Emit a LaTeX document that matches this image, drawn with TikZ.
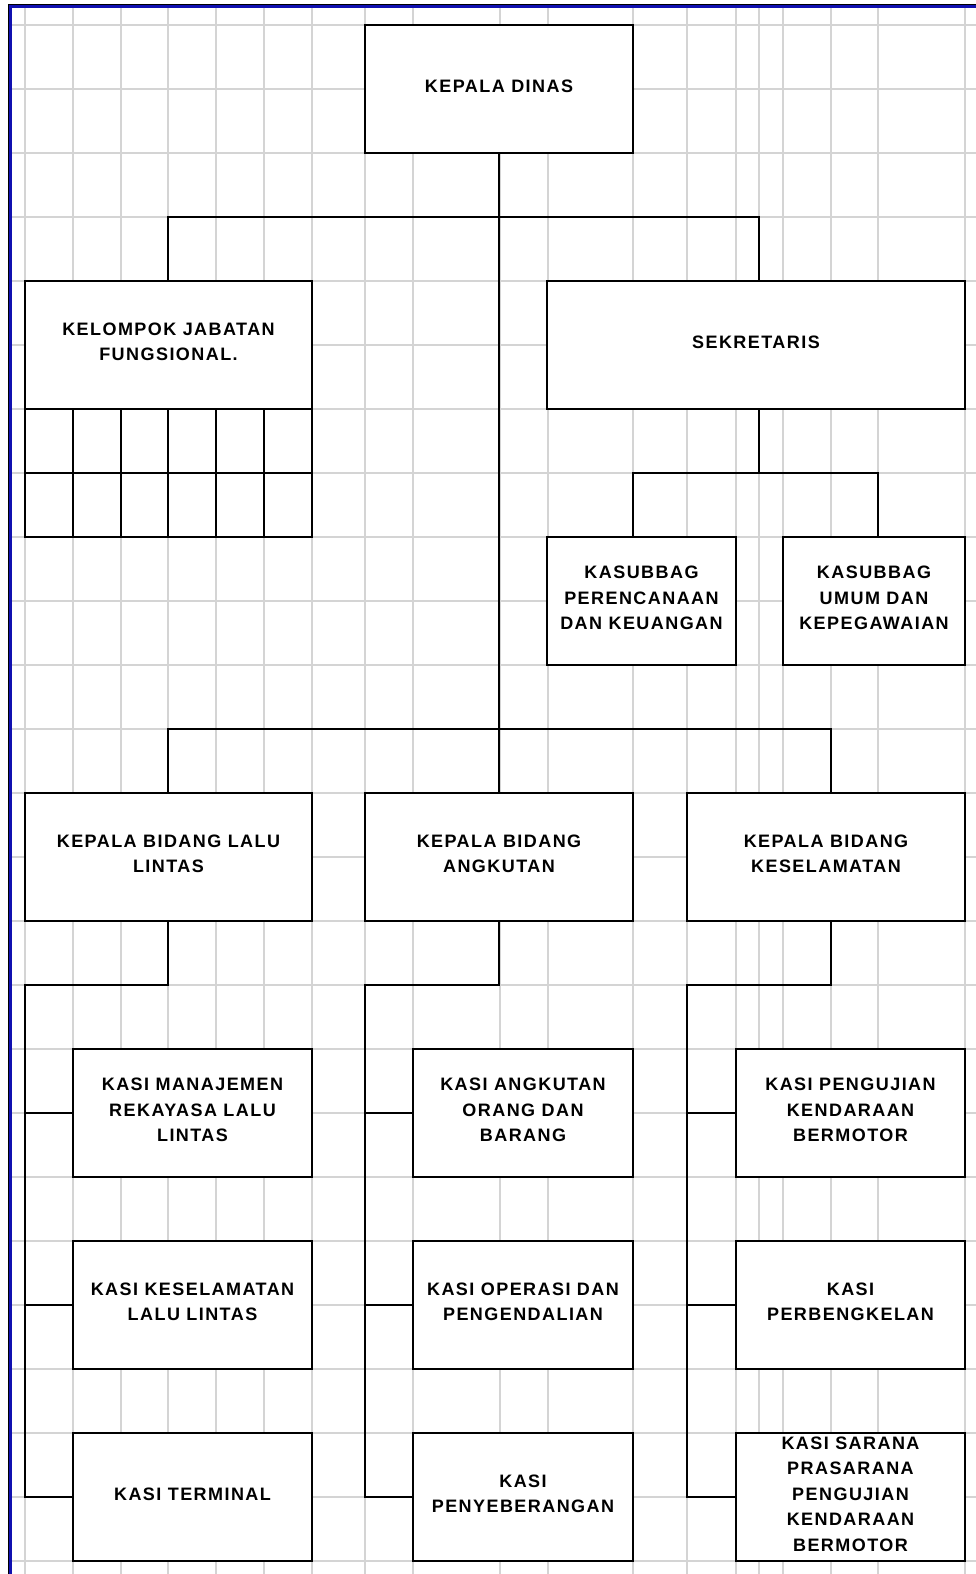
\documentclass[tikz,border=0pt]{standalone}
\usepackage{fontspec}
\newfontfamily\orgfont[LetterSpace=8]{Liberation Sans}
\definecolor{gridgray}{HTML}{D4D4D4}
\definecolor{xlblue}{HTML}{1010B0}
\newcommand\orgbox[6]{%
  \node[box,minimum width={(#4-#2)*1pt},minimum height={(#5-#3)*1pt}] (#1) at ({(#2+#4)/2},{(#3+#5)/2}) {};
  \node[txt] (#1t) at ([yshift=3pt]#1.center) {#6};}
\begin{document}
\begin{tikzpicture}[x=1pt,y=-1pt,
  box/.style={draw=black,fill=white,line width=1.8pt,inner sep=0pt,outer sep=0pt},
  txt/.style={font=\orgfont\bfseries\fontsize{18}{25.5}\selectfont,align=center,inner sep=0pt},
  conn/.style={draw=black,line width=1.8pt},
  gridline/.style={draw=gridgray,line width=1.5pt}]
\useasboundingbox (0,0) rectangle (976,1574);
\fill[white] (0,0) rectangle (976,1574);
% spreadsheet grid
\foreach \x in {25,73,121,168,216,264,312,365,413,500,548,633,687,736,759,783,831,878,965}
  \draw[gridline] (\x,7) -- (\x,1574);
\foreach \k in {0,...,24}
  \draw[gridline] (11,{25+64*\k}) -- (976,{25+64*\k});
% window border
\fill[xlblue] (8,4) rectangle (976,7.5);
\fill[xlblue] (8,4) rectangle (11.5,1574);
\draw[black,line width=1pt] (8.5,1574) -- (8.5,4.5) -- (976,4.5);
% boxes
\orgbox{kd}{365}{25}{633}{153}{KEPALA DINAS}
\orgbox{kjf}{25}{281}{312}{409}{KELOMPOK JABATAN\\FUNGSIONAL.}
\orgbox{sek}{547}{281}{965}{409}{SEKRETARIS}
\orgbox{kpk}{547}{537}{736}{665}{KASUBBAG\\PERENCANAAN\\DAN KEUANGAN}
\orgbox{kum}{783}{537}{965}{665}{KASUBBAG\\UMUM DAN\\KEPEGAWAIAN}
\orgbox{kbL}{25}{793}{312}{921}{KEPALA BIDANG LALU\\LINTAS}
\orgbox{kbA}{365}{793}{633}{921}{KEPALA BIDANG\\ANGKUTAN}
\orgbox{kbK}{687}{793}{965}{921}{KEPALA BIDANG\\KESELAMATAN}
\orgbox{Lone}{73}{1049}{312}{1177}{KASI MANAJEMEN\\REKAYASA LALU\\LINTAS}
\orgbox{Ltwo}{73}{1241}{312}{1369}{KASI KESELAMATAN\\LALU LINTAS}
\orgbox{Lthree}{73}{1433}{312}{1561}{KASI TERMINAL}
\orgbox{Aone}{413}{1049}{633}{1177}{KASI ANGKUTAN\\ORANG DAN\\BARANG}
\orgbox{Atwo}{413}{1241}{633}{1369}{KASI OPERASI DAN\\PENGENDALIAN}
\orgbox{Athree}{413}{1433}{633}{1561}{KASI\\PENYEBERANGAN}
\orgbox{Kone}{736}{1049}{965}{1177}{KASI PENGUJIAN\\KENDARAAN\\BERMOTOR}
\orgbox{Ktwo}{736}{1241}{965}{1369}{KASI\\PERBENGKELAN}
\orgbox{Kthree}{736}{1433}{965}{1561}{KASI SARANA\\PRASARANA\\PENGUJIAN\\KENDARAAN\\BERMOTOR}
% table under kelompok jabatan fungsional
\draw[conn,fill=white] (kjf.south west) rectangle (312,537);
\foreach \x in {73,121,168,216,264} \draw[conn] (\x,409) -- (\x,537);
\draw[conn] (25,473) -- (312,473);
% junction coordinates
\coordinate (jS) at (759,217);
\coordinate (jS2) at (759,473);
\coordinate (jP) at (633,473);
\coordinate (jU) at (878,473);
\coordinate (jL) at (168,729);
\coordinate (jK) at (831,729);
\coordinate (cL) at (25,985);
\coordinate (cA) at (365,985);
\coordinate (cK) at (687,985);
% connectors
\draw[conn] (kd.south) -- (kbA.north);
\draw[conn] (kjf.north -| jL) |- (jS) -- (sek.north -| jS);
\draw[conn] (sek.south -| jS2) -- (jS2);
\draw[conn] (kpk.north -| jP) |- (jU) -- (kum.north -| jU);
\draw[conn] (kbL.north -| jL) -- (jL) -- (jK) -- (kbK.north -| jK);
% bidang lalu lintas
\draw[conn] (kbL.south -| jL) |- (cL) |- (Lthree.west);
\draw[conn] (Lone.west) -- (Lone.west -| cL);
\draw[conn] (Ltwo.west) -- (Ltwo.west -| cL);
% bidang angkutan
\draw[conn] (kbA.south) |- (cA) |- (Athree.west);
\draw[conn] (Aone.west) -- (Aone.west -| cA);
\draw[conn] (Atwo.west) -- (Atwo.west -| cA);
% bidang keselamatan
\draw[conn] (kbK.south -| jK) |- (cK) |- (Kthree.west);
\draw[conn] (Kone.west) -- (Kone.west -| cK);
\draw[conn] (Ktwo.west) -- (Ktwo.west -| cK);
\end{tikzpicture}
\end{document}
